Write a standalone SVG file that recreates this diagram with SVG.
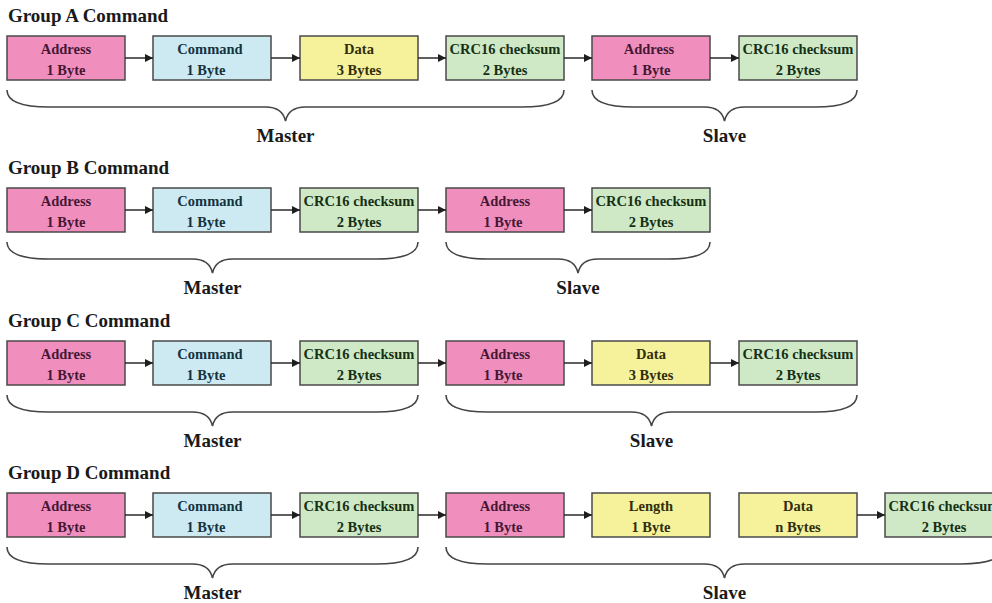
<svg xmlns="http://www.w3.org/2000/svg" width="992" height="603" viewBox="0 0 992 603">
<defs>
<marker id="ah" viewBox="0 0 10 10" refX="10" refY="5" markerWidth="9" markerHeight="8" markerUnits="userSpaceOnUse" orient="auto"><path d="M0,0 L10,5 L0,10 z" fill="#1e1e1e"/></marker>
<style>
.box{stroke:#4a4a4a;stroke-width:1.5}
.addr{fill:#f08fbe}.cmd{fill:#cdeaf2}.dat{fill:#f6f29b}.crc{fill:#cfe8c5}
.t{font-family:"Liberation Serif","Times New Roman",serif;font-weight:bold;font-size:14.5px;text-anchor:middle}
.ta{fill:#461734}.tc{fill:#15323d}.td{fill:#312e0d}.tg{fill:#153015}
.h{font-family:"Liberation Serif","Times New Roman",serif;font-weight:bold;font-size:19px;fill:#1a1a1a}
.lbl{font-family:"Liberation Serif","Times New Roman",serif;font-weight:bold;font-size:19px;fill:#1a1a1a;text-anchor:middle}
.con{stroke:#2a2a2a;stroke-width:1.5;fill:none;marker-end:url(#ah)}
.br{stroke:#454545;stroke-width:1.6;fill:none}
</style>
</defs>
<rect width="992" height="603" fill="#ffffff"/>

<!-- Titles -->
<text class="h" x="8" y="22">Group A Command</text>
<text class="h" x="8" y="174">Group B Command</text>
<text class="h" x="8" y="327">Group C Command</text>
<text class="h" x="8" y="479">Group D Command</text>

<!-- Row A -->
<g id="a1"><rect class="box addr" x="7" y="36" width="118" height="44"/><text class="t ta" x="66" y="53.5">Address</text><text class="t ta" x="66" y="75">1 Byte</text></g>
<g id="a2"><rect class="box cmd" x="153" y="36" width="118" height="44"/><text class="t tc" x="210" y="53.5">Command</text><text class="t tc" x="206" y="75">1 Byte</text></g>
<g id="a3"><rect class="box dat" x="300" y="36" width="118" height="44"/><text class="t td" x="359" y="53.5">Data</text><text class="t td" x="359" y="75">3 Bytes</text></g>
<g id="a4"><rect class="box crc" x="446" y="36" width="118" height="44"/><text class="t tg" x="505" y="53.5">CRC16 checksum</text><text class="t tg" x="505" y="75">2 Bytes</text></g>
<g id="a5"><rect class="box addr" x="592" y="36" width="118" height="44"/><text class="t ta" x="649" y="53.5">Address</text><text class="t ta" x="651" y="75">1 Byte</text></g>
<g id="a6"><rect class="box crc" x="739" y="36" width="118" height="44"/><text class="t tg" x="798" y="53.5">CRC16 checksum</text><text class="t tg" x="798" y="75">2 Bytes</text></g>

<!-- Row B -->
<g id="b1"><rect class="box addr" x="7" y="188" width="118" height="44"/><text class="t ta" x="66" y="205.5">Address</text><text class="t ta" x="66" y="227">1 Byte</text></g>
<g id="b2"><rect class="box cmd" x="153" y="188" width="118" height="44"/><text class="t tc" x="210" y="205.5">Command</text><text class="t tc" x="206" y="227">1 Byte</text></g>
<g id="b3"><rect class="box crc" x="300" y="188" width="118" height="44"/><text class="t tg" x="359" y="205.5">CRC16 checksum</text><text class="t tg" x="359" y="227">2 Bytes</text></g>
<g id="b4"><rect class="box addr" x="446" y="188" width="118" height="44"/><text class="t ta" x="505" y="205.5">Address</text><text class="t ta" x="503" y="227">1 Byte</text></g>
<g id="b5"><rect class="box crc" x="592" y="188" width="118" height="44"/><text class="t tg" x="651" y="205.5">CRC16 checksum</text><text class="t tg" x="651" y="227">2 Bytes</text></g>

<!-- Row C -->
<g id="c1"><rect class="box addr" x="7" y="341" width="118" height="44"/><text class="t ta" x="66" y="358.5">Address</text><text class="t ta" x="66" y="380">1 Byte</text></g>
<g id="c2"><rect class="box cmd" x="153" y="341" width="118" height="44"/><text class="t tc" x="210" y="358.5">Command</text><text class="t tc" x="206" y="380">1 Byte</text></g>
<g id="c3"><rect class="box crc" x="300" y="341" width="118" height="44"/><text class="t tg" x="359" y="358.5">CRC16 checksum</text><text class="t tg" x="359" y="380">2 Bytes</text></g>
<g id="c4"><rect class="box addr" x="446" y="341" width="118" height="44"/><text class="t ta" x="505" y="358.5">Address</text><text class="t ta" x="503" y="380">1 Byte</text></g>
<g id="c5"><rect class="box dat" x="592" y="341" width="118" height="44"/><text class="t td" x="651" y="358.5">Data</text><text class="t td" x="651" y="380">3 Bytes</text></g>
<g id="c6"><rect class="box crc" x="739" y="341" width="118" height="44"/><text class="t tg" x="798" y="358.5">CRC16 checksum</text><text class="t tg" x="798" y="380">2 Bytes</text></g>

<!-- Row D -->
<g id="d1"><rect class="box addr" x="7" y="493" width="118" height="44"/><text class="t ta" x="66" y="510.5">Address</text><text class="t ta" x="66" y="532">1 Byte</text></g>
<g id="d2"><rect class="box cmd" x="153" y="493" width="118" height="44"/><text class="t tc" x="210" y="510.5">Command</text><text class="t tc" x="206" y="532">1 Byte</text></g>
<g id="d3"><rect class="box crc" x="300" y="493" width="118" height="44"/><text class="t tg" x="359" y="510.5">CRC16 checksum</text><text class="t tg" x="359" y="532">2 Bytes</text></g>
<g id="d4"><rect class="box addr" x="446" y="493" width="118" height="44"/><text class="t ta" x="505" y="510.5">Address</text><text class="t ta" x="503" y="532">1 Byte</text></g>
<g id="d5"><rect class="box dat" x="592" y="493" width="118" height="44"/><text class="t td" x="651" y="510.5">Length</text><text class="t td" x="651" y="532">1 Byte</text></g>
<g id="d6"><rect class="box dat" x="739" y="493" width="118" height="44"/><text class="t td" x="798" y="510.5">Data</text><text class="t td" x="798" y="532">n Bytes</text></g>
<g id="d7"><rect class="box crc" x="885" y="493" width="118" height="44"/><text class="t tg" x="944" y="510.5">CRC16 checksum</text><text class="t tg" x="944" y="532">2 Bytes</text></g>

<!-- Connectors -->
<g id="connectors">
<line class="con" x1="125" y1="58" x2="153" y2="58"/>
<line class="con" x1="271" y1="58" x2="300" y2="58"/>
<line class="con" x1="418" y1="58" x2="446" y2="58"/>
<line class="con" x1="564" y1="58" x2="592" y2="58"/>
<line class="con" x1="710" y1="58" x2="739" y2="58"/>

<line class="con" x1="125" y1="210" x2="153" y2="210"/>
<line class="con" x1="271" y1="210" x2="300" y2="210"/>
<line class="con" x1="418" y1="210" x2="446" y2="210"/>
<line class="con" x1="564" y1="210" x2="592" y2="210"/>

<line class="con" x1="125" y1="363" x2="153" y2="363"/>
<line class="con" x1="271" y1="363" x2="300" y2="363"/>
<line class="con" x1="418" y1="363" x2="446" y2="363"/>
<line class="con" x1="564" y1="363" x2="592" y2="363"/>
<line class="con" x1="710" y1="363" x2="739" y2="363"/>

<line class="con" x1="125" y1="515" x2="153" y2="515"/>
<line class="con" x1="271" y1="515" x2="300" y2="515"/>
<line class="con" x1="418" y1="515" x2="446" y2="515"/>
<line class="con" x1="564" y1="515" x2="592" y2="515"/>
<line class="con" x1="857" y1="515" x2="885" y2="515"/>
</g>

<!-- Braces and labels -->
<g id="braces">
<path class="br" d="M7,90 Q7,107 49,107 L265.5,107 Q282.5,107 285.5,121 Q288.5,107 305.5,107 L522,107 Q564,107 564,90"/>
<path class="br" d="M592,90 Q592,107 634,107 L704.5,107 Q721.5,107 724.5,121 Q727.5,107 744.5,107 L815,107 Q857,107 857,90"/>

<path class="br" d="M7,242 Q7,259 49,259 L192.5,259 Q209.5,259 212.5,273 Q215.5,259 232.5,259 L376,259 Q418,259 418,242"/>
<path class="br" d="M446,242 Q446,259 488,259 L558,259 Q575,259 578,273 Q581,259 598,259 L668,259 Q710,259 710,242"/>

<path class="br" d="M7,395 Q7,412 49,412 L192.5,412 Q209.5,412 212.5,426 Q215.5,412 232.5,412 L376,412 Q418,412 418,395"/>
<path class="br" d="M446,395 Q446,412 488,412 L631.5,412 Q648.5,412 651.5,426 Q654.5,412 671.5,412 L815,412 Q857,412 857,395"/>

<path class="br" d="M7,547 Q7,564 49,564 L192.5,564 Q209.5,564 212.5,578 Q215.5,564 232.5,564 L376,564 Q418,564 418,547"/>
<path class="br" d="M446,547 Q446,564 488,564 L704.5,564 Q721.5,564 724.5,578 Q727.5,564 744.5,564 L961,564 Q1003,564 1003,547"/>
</g>
<g id="labels">
<text class="lbl" x="285.5" y="142">Master</text>
<text class="lbl" x="724.5" y="142">Slave</text>
<text class="lbl" x="212.5" y="294">Master</text>
<text class="lbl" x="578" y="294">Slave</text>
<text class="lbl" x="212.5" y="447">Master</text>
<text class="lbl" x="651.5" y="447">Slave</text>
<text class="lbl" x="212.5" y="599">Master</text>
<text class="lbl" x="724.5" y="599">Slave</text>
</g>
</svg>
